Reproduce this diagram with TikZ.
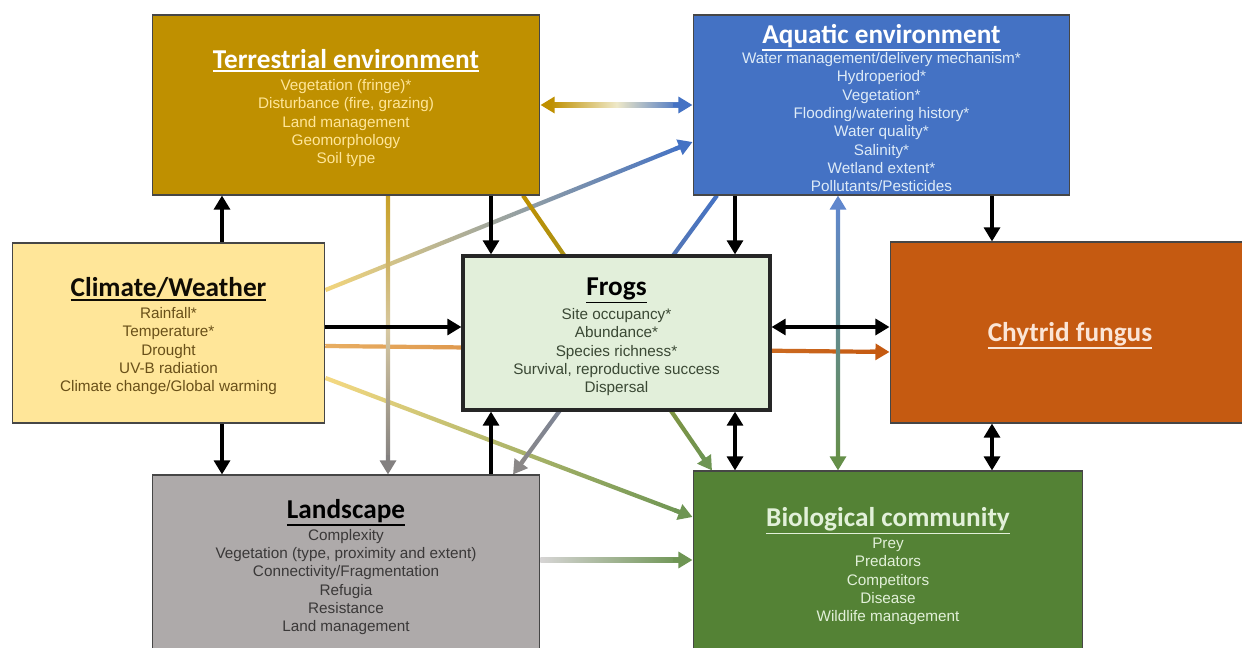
\documentclass[tikz,border=0pt]{standalone}
\usepackage{fontspec}
\setmainfont{Liberation Sans}
\newfontfamily\titlefont{Carlito}
\usepackage{xcolor}
\usetikzlibrary{arrows.meta,calc,backgrounds}

\definecolor{TerrGold}{RGB}{191,144,0}
\definecolor{AquaBlue}{RGB}{68,114,196}
\definecolor{ClimYellow}{RGB}{255,230,153}
\definecolor{FrogGreen}{RGB}{226,239,218}
\definecolor{ChytOrange}{RGB}{197,90,17}
\definecolor{LandGrey}{RGB}{174,170,170}
\definecolor{BioGreen}{RGB}{84,130,53}
\definecolor{EdgeDark}{RGB}{70,70,70}
\definecolor{PaleBlue}{RGB}{222,235,247}
\definecolor{PaleGreen}{RGB}{226,240,217}
\definecolor{PaleOrange}{RGB}{251,229,214}
\definecolor{ClimText}{RGB}{105,80,25}
\definecolor{FrogText}{RGB}{58,72,52}
\definecolor{LandText}{RGB}{58,56,56}

% underlined bold heading of a box
\newcommand\boxtitle[2][black]{{\color{#1}\titlefont\bfseries\fontsize{15.5}{18}\selectfont
  \rule{0pt}{14.5pt}%
  \setbox0\hbox{#2}\rlap{\rule[-\dimexpr\dp0+1.6pt\relax]{\wd0}{0.9pt}}\box0}}

% shaded link from #2 to #3; #4 shading, #5 colour of end head,
% #1 colour of start head (empty: no head at the start)
\newcommand\fadelink[5][]{%
  \coordinate (fl-a) at (#2);
  \coordinate (fl-b) at ($(#3)!6pt!(#2)$);
  \ifx\relax#1\relax\else
    \coordinate (fl-a) at ($(#2)!6pt!(#3)$);
    \draw[head,#1] ($(#2)!11pt!(#3)$) -- (#2);
  \fi
  \shade[#4] ($(fl-a)!1.2pt!90:(fl-b)$) -- ($(fl-a)!1.2pt!-90:(fl-b)$)
    -- ($(fl-b)!1.2pt!90:(fl-a)$) -- ($(fl-b)!1.2pt!-90:(fl-a)$) -- cycle;
  \draw[head,#5] ($(#3)!11pt!(#2)$) -- (#3);}

\begin{document}
\begin{tikzpicture}[x=0.02cm,y=-0.02cm,
    >={Triangle[length=8pt,width=9pt]},
    box/.style={draw=EdgeDark,line width=0.6pt,align=center,inner sep=0pt,
                font=\fontsize{8.7}{10.4}\selectfont},
    blk/.style={->,black,line width=2.6pt},
    head/.style={->,line width=2.4pt}
  ]
  \useasboundingbox (0,0) rectangle (1242,648);

  % boxes
  \node[box,fill=TerrGold,text=ClimYellow,minimum width=7.76cm,minimum height=3.6cm]
    (terr) at (346,105) {\boxtitle[white]{Terrestrial environment}\\[2pt]
      Vegetation (fringe)*\\ Disturbance (fire, grazing)\\ Land management\\
      Geomorphology\\ Soil type};
  \node[box,fill=AquaBlue,text=PaleBlue,minimum width=7.54cm,minimum height=3.6cm]
    (aqua) at (881.5,105) {\boxtitle[white]{Aquatic environment}\\[1pt]
      Water management/delivery mechanism*\\ Hydroperiod*\\ Vegetation*\\
      Flooding/watering history*\\ Water quality*\\ Salinity*\\
      Wetland extent*\\ Pollutants/Pesticides};
  \node[box,fill=ClimYellow,text=ClimText,minimum width=6.26cm,minimum height=3.6cm]
    (clim) at (168.5,333) {\boxtitle[black!85!ClimText]{Climate/Weather}\\[2pt]
      Rainfall*\\ Temperature*\\ Drought\\ UV-B radiation\\
      Climate change/Global warming};
  \node[box,fill=FrogGreen,text=FrogText,draw=black!85,line width=1.8pt,
        minimum width=6.14cm,minimum height=3.08cm]
    (frog) at (616.5,333) {\boxtitle{Frogs}\\[2pt]
      Site occupancy*\\ Abundance*\\ Species richness*\\
      Survival, reproductive success\\ Dispersal};
  \node[box,fill=ChytOrange,minimum width=7.2cm,minimum height=3.62cm]
    (chyt) at (1070,332.5) {\boxtitle[PaleOrange]{Chytrid fungus}};
  \node[box,fill=LandGrey,text=LandText,minimum width=7.76cm,minimum height=3.56cm]
    (land) at (346,564) {\boxtitle{Landscape}\\[2pt]
      Complexity\\ Vegetation (type, proximity and extent)\\
      Connectivity/Fragmentation\\ Refugia\\ Resistance\\ Land management};
  \node[box,fill=BioGreen,text=PaleGreen,minimum width=7.8cm,minimum height=3.68cm]
    (bio) at (888,563) {\boxtitle[PaleGreen]{Biological community}\\[2pt]
      Prey\\ Predators\\ Competitors\\ Disease\\ Wildlife management};

  % columns and rows of the straight links
  \coordinate (c1) at (222,0);
  \coordinate (c2) at (388,0);
  \coordinate (c3) at (491,0);
  \coordinate (c4) at (735,0);
  \coordinate (c5) at (838,0);
  \coordinate (c6) at (992,0);
  \coordinate (r1) at (0,105);
  \coordinate (r2) at (0,327);
  \coordinate (r3) at (0,560);

  \begin{scope}[on background layer]
    \fill[white] (0,0) rectangle (1242,648);

    % shaded links
    \fadelink[TerrGold]{terr.east |- r1}{aqua.west |- r1}
      {left color=TerrGold,right color=AquaBlue,middle color=ClimYellow!50!PaleBlue}{AquaBlue}
    \fadelink{clim.east |- 0,290}{aqua.west |- 0,142}
      {left color=ClimYellow!80!TerrGold,right color=AquaBlue}{AquaBlue}
    \fadelink{clim.east |- 0,346}{chyt.west |- 0,352}
      {left color=ClimYellow!60!ChytOrange,right color=ChytOrange}{ChytOrange}
    \fadelink{clim.east |- 0,378}{bio.west |- 0,517}
      {left color=ClimYellow!85!TerrGold,right color=BioGreen!85}{BioGreen!85}
    \fadelink{terr.south -| c2}{land.north -| c2}
      {top color=TerrGold!85,bottom color=LandGrey!75!black,middle color=LandGrey!50!ClimYellow}{LandGrey!75!black}
    \fadelink{terr.south -| 523,0}{bio.north -| 712,0}
      {left color=TerrGold,right color=BioGreen!85}{BioGreen!85}
    \fadelink{aqua.south -| 717,0}{land.north -| 513,0}
      {right color=AquaBlue,left color=LandGrey!80!black}{LandGrey!80!black}
    \fadelink[AquaBlue!85]{aqua.south -| c5}{bio.north -| c5}
      {top color=AquaBlue!85,bottom color=BioGreen!90}{BioGreen!90}
    \fadelink{land.east |- r3}{bio.west |- r3}
      {left color=LandGrey!50!white,right color=BioGreen!85}{BioGreen!85}

    % black links
    \draw[blk] (clim.north -| c1) -- (terr.south -| c1);
    \draw[blk] (clim.south -| c1) -- (land.north -| c1);
    \draw[blk] (clim.east |- r2) -- (frog.west |- r2);
    \draw[blk] (terr.south -| c3) -- (frog.north -| c3);
    \draw[blk] (land.north -| c3) -- (frog.south -| c3);
    \draw[blk] (aqua.south -| c4) -- (frog.north -| c4);
    \draw[blk,<->] (frog.south -| c4) -- (bio.north -| c4);
    \draw[blk] (aqua.south -| c6) -- (chyt.north -| c6);
    \draw[blk,<->] (chyt.south -| c6) -- (bio.north -| c6);
    \draw[blk,<->] (frog.east |- r2) -- (chyt.west |- r2);
  \end{scope}
\end{tikzpicture}
\end{document}
